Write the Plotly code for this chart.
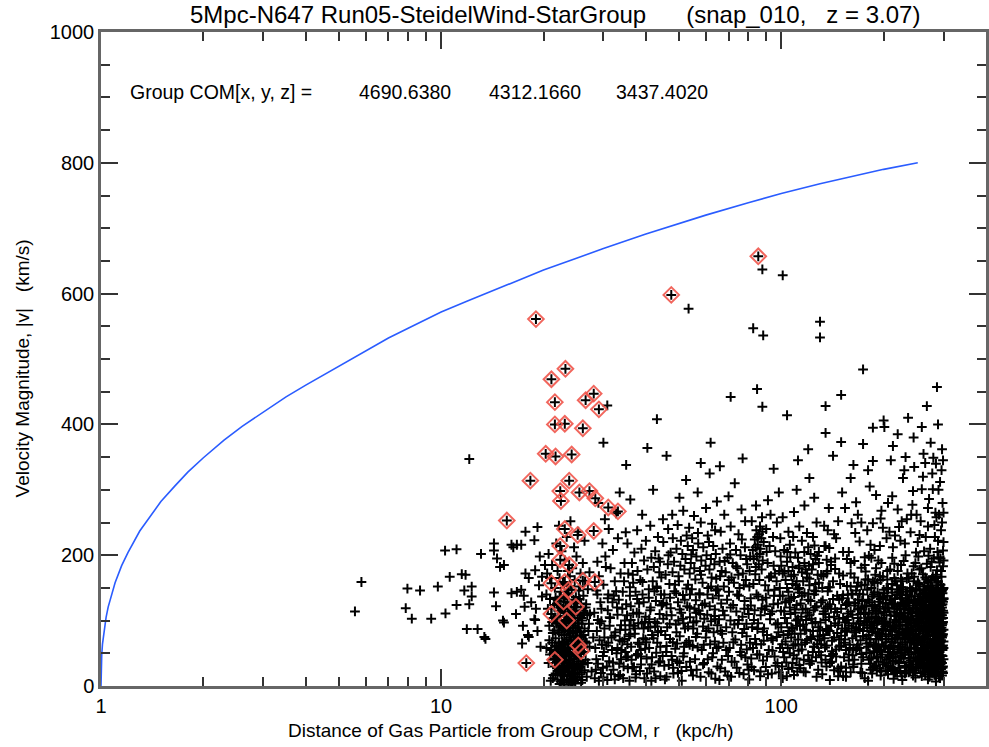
import plotly.graph_objects as go

# Escape-velocity style envelope |v|(r)
vesc_r = [1.0, 1.002, 1.005, 1.01, 1.02, 1.035, 1.05, 1.075, 1.1, 1.15, 1.2, 1.3, 1.4, 1.5,
          1.65, 1.8, 2.0, 2.3, 2.6, 3.0, 3.5, 4.0, 5.0, 6.0, 7.0, 8.0, 10, 12, 15, 20, 25, 30,
          40, 50, 60, 80, 100, 130, 160, 200, 252]
vesc_v = [0, 34, 48, 64, 84, 105, 121, 141, 158, 184, 204, 237, 261, 282,
          306, 327, 349, 376, 397, 419, 442, 460, 489, 513, 532, 547, 572, 589, 610, 636, 654, 669,
          691, 707, 720, 739, 753, 768, 779, 790, 800]

# Gas particles (r [kpc/h], |v| [km/s])
gas_inner = [
    (12.1, 347), (5.83, 159), (5.58, 114), (7.96, 149), (8.67, 146), (7.87, 119), (8.2, 103),
    (9.35, 103), (9.78, 152), (10.27, 207), (11.1, 209), (10.6, 167), (10.3, 111), (11.1, 124),
    (11.5, 171), (11.8, 170), (11.7, 146), (12.3, 152), (12.3, 137), (12.1, 125), (11.9, 87),
    (12.8, 87), (13.5, 72), (13.1, 202), (14.3, 218), (14.3, 207), (14.6, 195), (14.9, 182),
    (15.3, 185), (14.3, 143), (14.5, 122), (15.3, 97), (16.1, 216), (16.7, 216), (17.2, 216),
    (16.3, 212), (17.7, 236), (19.2, 243), (18.8, 223), (16.1, 142), (16.7, 144), (17.2, 147),
    (17.5, 138), (17.6, 121), (17.4, 92), (17.3, 65), (18.9, 101), (18.1, 75), (19.5, 198),
    (19.8, 167), (19.8, 137), (19.4, 154), (20.2, 185), (20.5, 172), (18.9, 177), (17.7, 172),
    (18.1, 165), (13.4, 75), (15.2, 100), (18.0, 78), (18.8, 102), (19.2, 84), (19.6, 60),
    (16.6, 110), (18.4, 128), (19.0, 118),
]

gas_spike = [
    (21.3, 12), (22.8, 8), (23.5, 15), (24.1, 6), (22.4, 20), (23.9, 22), (24.6, 18), (21.9, 27),
    (23.1, 30), (25.2, 25), (22.6, 35), (24.3, 33), (23.7, 40), (21.5, 42), (25.8, 38), (22.9, 46),
    (24.9, 47), (23.3, 52), (21.1, 55), (22.2, 58), (24.0, 57), (25.5, 60), (26.3, 52), (23.6, 64),
    (22.7, 68), (24.7, 70), (21.7, 73), (25.9, 75), (23.0, 78), (26.8, 66), (24.4, 82), (22.1, 85),
    (23.8, 88), (25.3, 90), (20.8, 92), (27.1, 84), (22.5, 96), (24.2, 98), (26.0, 100), (21.4, 104),
    (23.4, 106), (25.6, 108), (22.9, 112), (24.8, 115), (20.6, 118), (26.6, 120), (23.2, 122),
    (21.9, 126), (25.1, 128), (27.4, 110), (24.5, 132), (22.3, 136), (26.2, 138), (20.4, 140),
    (23.6, 142), (25.4, 146), (21.6, 150), (27.0, 148), (24.0, 153), (22.8, 158), (26.5, 160),
    (20.9, 165), (23.9, 168), (25.7, 172), (22.0, 176), (27.3, 174), (24.3, 180), (21.2, 185),
    (26.1, 188), (23.1, 192), (25.0, 198), (20.7, 202), (22.6, 206), (24.6, 212), (21.8, 218),
    (26.4, 222), (23.4, 228), (25.3, 236), (22.2, 245), (24.0, 252),
    (22.0, 10), (23.0, 5), (24.4, 11), (22.6, 16), (23.8, 9), (24.9, 14), (21.7, 19), (23.2, 24),
    (24.5, 27), (22.3, 31), (25.0, 32), (23.6, 29), (21.9, 37), (24.0, 39), (25.4, 44), (22.5, 43),
    (23.1, 48), (24.6, 52), (21.4, 50), (22.9, 56), (25.1, 55), (23.7, 59), (24.3, 63), (22.2, 66),
    (25.8, 68), (21.6, 62), (23.4, 71), (24.9, 76), (22.6, 79), (21.3, 81), (25.5, 83), (23.9, 84),
    (22.9, 90), (24.5, 93), (21.8, 95), (25.9, 95), (23.1, 99), (24.1, 103), (22.4, 107),
    (25.2, 104), (21.1, 110), (23.8, 113), (26.3, 112), (22.7, 118), (24.6, 121), (21.5, 124),
    (23.5, 128), (25.8, 126), (22.0, 131), (24.9, 136), (20.9, 133), (23.3, 139), (22.5, 144),
    (24.2, 147), (25.6, 152), (23.0, 156), (24.7, 162), (22.3, 165), (23.6, 176),
    (21.0, 8), (21.8, 45), (22.3, 3), (22.9, 63), (23.4, 10), (23.9, 36), (24.4, 89), (24.8, 4),
    (25.3, 70), (25.9, 21), (26.4, 88), (27.0, 35), (21.2, 98), (21.6, 30), (22.1, 115), (22.7, 25),
    (23.2, 88), (23.7, 2), (24.2, 45), (24.7, 108), (25.2, 13), (25.7, 49), (26.2, 78), (26.8, 14),
    (27.3, 60), (20.8, 70), (21.9, 60), (22.4, 92), (23.0, 17), (23.5, 57), (24.0, 80), (24.5, 34),
    (25.0, 120), (25.6, 29), (26.1, 58), (26.6, 40), (27.2, 95), (22.6, 50), (23.3, 40), (23.8, 74),
    (24.3, 20), (24.8, 61), (25.4, 96), (21.5, 85), (22.1, 23), (23.0, 101), (23.6, 117),
    (24.1, 126), (24.6, 8), (25.1, 84), (26.0, 9), (26.9, 108), (20.7, 35), (20.4, 58), (27.7, 22),
    (28.0, 74), (21.7, 135), (23.1, 134), (25.5, 133), (26.7, 125),
    (21.4, 17), (21.9, 52), (22.2, 82), (22.5, 7), (22.8, 38), (23.1, 66), (23.3, 92), (23.6, 21),
    (23.9, 50), (24.1, 70), (24.4, 100), (24.6, 42), (24.9, 26), (25.2, 56), (25.5, 110), (25.8, 5),
    (26.1, 33), (26.5, 68), (22.0, 100), (22.5, 60), (23.0, 112), (23.5, 85), (24.0, 16), (24.5, 74),
    (25.0, 47), (25.5, 18), (21.6, 105), (22.3, 45), (23.2, 55), (23.8, 104), (24.2, 29), (24.8, 89),
    (25.3, 37), (25.9, 104), (26.4, 24), (21.2, 66), (22.7, 90), (23.4, 31), (24.0, 110), (24.7, 58),
    (25.7, 82), (26.2, 115), (20.9, 48), (22.4, 120), (23.7, 48), (24.3, 7), (25.1, 69), (22.9, 28),
    (23.9, 96), (24.5, 115),
]

gas_mid = [
    (28.3, 12), (29.5, 20), (30.8, 9), (32.1, 25), (33.6, 17), (28.9, 34), (31.2, 38), (34.4, 30),
    (29.9, 46), (32.8, 50), (28.4, 58), (30.6, 62), (33.9, 55), (35.0, 44), (29.2, 70), (31.7, 74),
    (34.1, 68), (28.7, 84), (30.2, 88), (32.5, 82), (33.8, 93), (29.6, 99), (31.4, 104), (34.7, 100),
    (28.2, 112), (30.9, 116), (32.9, 120), (29.4, 128), (33.3, 132), (31.0, 140), (28.6, 146),
    (34.2, 144), (30.0, 155), (32.4, 160), (29.1, 168), (33.7, 172), (31.5, 180), (28.8, 190),
    (30.4, 198), (34.6, 188), (32.0, 208), (29.8, 218), (33.1, 226), (31.1, 240), (34.9, 235),
    (30.3, 255), (32.7, 264), (29.0, 280), (33.5, 296),
    (35.8, 8), (37.4, 18), (39.6, 12), (42.3, 22), (44.1, 15), (36.5, 28), (38.7, 33), (41.0, 27),
    (43.6, 36), (35.4, 45), (37.9, 49), (40.2, 42), (42.9, 51), (44.8, 46), (36.2, 60), (38.3, 64),
    (40.9, 58), (43.2, 66), (35.7, 76), (37.1, 80), (39.3, 73), (41.7, 78), (44.3, 84), (36.8, 92),
    (38.9, 96), (40.6, 90), (42.5, 98), (35.2, 108), (37.6, 112), (39.9, 106), (43.9, 110),
    (36.1, 122), (38.2, 126), (41.3, 120), (42.8, 130), (44.6, 124), (35.9, 138), (37.3, 144),
    (39.1, 140), (40.8, 148), (43.0, 152), (36.7, 158), (38.5, 162), (41.9, 160), (44.4, 166),
    (35.5, 172), (37.8, 176), (40.4, 178), (42.2, 182), (43.8, 174), (36.4, 188), (39.5, 192),
    (41.5, 196), (44.0, 190), (37.0, 204), (38.8, 210), (42.6, 206), (35.3, 218), (40.0, 222),
    (43.4, 228), (37.7, 238), (41.2, 245), (39.0, 262), (44.9, 255), (36.0, 285), (42.0, 300),
    (45.5, 10), (48.2, 19), (51.0, 8), (54.3, 24), (57.9, 14), (61.2, 21), (64.0, 11), (46.7, 32),
    (49.4, 38), (52.6, 29), (55.8, 41), (59.3, 35), (62.7, 44), (45.9, 52), (48.8, 57), (51.7, 50),
    (54.9, 61), (58.4, 55), (61.8, 64), (64.6, 58), (47.1, 72), (50.3, 76), (53.5, 69), (56.6, 80),
    (60.0, 74), (63.3, 82), (46.2, 90), (49.0, 94), (52.1, 88), (55.2, 97), (58.9, 91), (62.2, 99),
    (64.9, 93), (47.6, 108), (50.8, 112), (53.9, 105), (57.2, 115), (60.6, 109), (63.8, 117),
    (46.0, 125), (49.7, 128), (52.9, 122), (56.1, 131), (59.6, 126), (62.9, 134), (45.3, 140),
    (48.5, 145), (51.4, 139), (54.6, 148), (57.5, 142), (61.0, 150), (64.3, 146), (46.9, 156),
    (50.0, 160), (53.2, 155), (55.9, 163), (58.7, 158), (62.4, 166), (45.7, 170), (47.9, 174),
    (49.9, 168), (51.9, 178), (53.8, 172), (55.5, 180), (57.7, 176), (59.9, 184), (61.5, 178),
    (63.6, 186), (46.4, 186), (48.4, 190), (50.5, 184), (52.3, 194), (54.2, 188), (56.3, 198),
    (58.2, 192), (60.3, 200), (62.1, 194), (64.2, 202), (47.3, 204), (49.2, 210), (51.2, 202),
    (53.1, 214), (55.0, 208), (57.0, 218), (59.0, 212), (61.3, 220), (63.1, 214), (45.0, 220),
    (48.0, 226), (50.7, 222), (52.7, 230), (54.7, 226), (56.9, 234), (60.8, 230), (63.9, 238),
    (46.5, 240), (49.6, 246), (53.6, 242), (58.0, 250), (62.6, 248), (47.8, 262), (51.5, 268),
    (55.4, 260), (60.1, 272), (50.2, 288), (56.8, 296), (64.7, 282), (52.5, 315), (61.6, 325),
    (28.5, 25), (29.3, 96), (30.1, 52), (30.9, 134), (31.6, 18), (32.3, 77), (33.0, 109), (33.8, 41),
    (34.5, 160), (35.3, 64), (36.1, 101), (36.9, 29), (37.7, 133), (38.6, 55), (39.4, 88), (40.3, 19),
    (41.2, 116), (42.1, 73), (43.1, 150), (44.0, 38), (45.0, 103), (46.0, 61), (47.1, 135), (48.1, 28),
    (49.2, 82), (50.3, 117), (51.5, 45), (52.6, 149), (53.8, 63), (55.0, 16), (56.3, 99), (57.5, 140),
    (58.9, 33), (60.2, 84), (61.6, 122), (63.0, 50), (64.4, 164), (28.8, 140), (29.7, 63),
    (30.5, 182), (31.3, 105), (32.0, 36), (32.7, 145), (33.5, 70), (34.3, 12), (35.0, 125),
    (35.8, 93), (36.6, 170), (37.4, 47), (38.2, 111), (39.1, 159), (39.9, 71), (40.8, 135),
    (41.7, 44), (42.6, 91), (43.6, 195), (44.5, 123), (45.6, 78), (46.6, 200), (47.6, 46),
    (48.7, 155), (49.8, 100), (50.9, 23), (52.0, 132), (53.2, 91), (54.4, 201), (55.6, 118),
    (56.8, 59), (58.1, 170), (59.4, 103), (60.8, 41), (62.2, 152), (63.6, 107), (64.9, 30),
    (29.9, 28), (31.8, 55), (33.2, 15), (34.8, 86), (36.3, 40), (37.9, 66), (39.7, 98), (41.5, 8),
    (43.4, 82), (45.3, 31), (47.3, 119), (49.4, 65), (51.6, 96), (53.9, 37), (56.1, 75), (58.6, 124),
    (61.1, 88), (63.8, 68),
    (28.6, 41), (29.1, 8), (29.6, 118), (30.2, 74), (30.7, 30), (31.3, 92), (31.9, 128), (32.4, 10),
    (33.0, 58), (33.6, 86), (34.1, 118), (34.8, 52), (35.4, 27), (36.0, 79), (36.7, 111), (37.3, 13),
    (38.0, 96), (38.7, 45), (39.4, 128), (40.1, 67), (40.9, 102), (41.6, 33), (42.4, 145), (43.2, 96),
    (44.1, 60), (45.0, 127), (46.0, 14), (47.0, 95), (48.0, 67), (49.1, 142), (50.2, 35), (51.4, 103),
    (52.6, 66), (53.8, 120), (55.1, 88), (56.4, 25), (57.8, 110), (59.2, 63), (60.7, 140), (62.3, 19),
    (63.9, 102), (28.9, 101), (30.0, 13), (31.0, 66), (32.2, 138), (33.4, 34), (34.6, 72),
    (35.9, 151), (37.1, 88), (38.4, 23), (39.8, 57), (41.2, 90), (42.7, 12), (44.3, 140), (46.0, 108),
    (47.8, 40), (49.7, 20), (51.8, 60), (53.9, 140), (56.2, 112),
]

gas_outer = [
    (65.8, 9), (68.4, 22), (71.2, 14), (74.0, 28), (77.5, 18), (79.6, 33), (66.9, 40), (69.8, 46),
    (72.9, 37), (75.7, 52), (78.4, 44), (65.4, 60), (67.6, 66), (70.5, 58), (73.3, 71), (76.2, 63),
    (79.1, 76), (66.3, 84), (68.9, 90), (71.8, 82), (74.6, 95), (77.8, 87), (65.6, 102), (68.1, 108),
    (70.9, 100), (73.8, 114), (76.9, 106), (79.8, 118), (66.6, 126), (69.3, 132), (72.2, 124),
    (75.1, 138), (78.0, 130), (65.1, 148), (67.8, 152), (70.2, 144), (72.6, 158), (75.4, 150),
    (78.7, 162), (66.1, 168), (68.6, 174), (71.4, 166), (74.3, 180), (77.1, 172), (79.4, 186),
    (65.9, 190), (69.5, 196), (72.0, 188), (75.9, 200), (78.9, 194), (67.2, 210), (70.7, 218),
    (73.6, 208), (76.6, 224), (66.4, 236), (71.0, 244), (74.9, 232), (78.3, 252), (68.0, 262),
    (76.4, 270), (70.0, 290), (73.0, 310),
    (80.5, 10), (83.2, 24), (86.7, 15), (90.1, 29), (93.8, 19), (97.5, 35), (81.6, 42), (84.9, 48),
    (88.4, 39), (91.9, 55), (95.6, 45), (99.2, 58), (80.9, 66), (83.8, 72), (87.3, 64), (90.8, 78),
    (94.4, 70), (98.1, 82), (82.1, 90), (85.5, 96), (89.0, 88), (92.7, 102), (96.3, 94), (80.2, 110),
    (83.5, 116), (87.0, 108), (90.5, 122), (94.0, 114), (97.8, 126), (81.3, 134), (84.6, 140),
    (88.1, 132), (91.6, 146), (95.2, 138), (99.0, 150), (82.8, 156), (86.2, 162), (89.7, 154),
    (93.3, 168), (96.9, 160), (80.7, 176), (84.2, 182), (85.9, 186), (87.6, 178), (83.0, 194),
    (84.8, 198), (86.4, 202), (88.2, 192), (91.2, 188), (95.0, 184), (98.6, 176), (82.5, 208),
    (84.0, 212), (85.3, 216), (86.9, 210), (88.8, 220), (83.6, 224), (85.0, 228), (86.1, 232),
    (87.4, 226), (84.5, 238), (86.6, 244), (88.0, 236), (92.4, 214), (96.0, 206), (99.6, 198),
    (90.3, 240), (94.6, 228), (81.9, 252), (87.8, 258), (93.0, 262), (97.1, 250), (84.3, 276),
    (91.4, 284), (98.4, 296),
    (101, 12), (105, 26), (109, 17), (113, 32), (118, 21), (123, 38), (127, 14), (102, 44),
    (106, 50), (111, 42), (115, 56), (120, 47), (125, 60), (129, 52), (103, 68), (107, 74),
    (110, 64), (114, 80), (119, 70), (124, 84), (128, 76), (100, 90), (104, 96), (108, 88),
    (112, 102), (116, 94), (121, 108), (126, 98), (102, 114), (106, 120), (110, 112), (114, 126),
    (118, 118), (122, 130), (127, 122), (101, 138), (105, 144), (109, 136), (113, 150), (117, 142),
    (121, 154), (125, 146), (129, 158), (103, 162), (107, 168), (111, 160), (115, 174), (119, 166),
    (123, 178), (128, 170), (100, 184), (104, 190), (108, 182), (112, 196), (117, 188), (122, 202),
    (126, 194), (102, 208), (106, 216), (110, 204), (115, 222), (120, 212), (124, 228), (105, 236),
    (113, 244), (119, 234), (127, 250), (101, 258), (109, 266), (117, 276), (125, 288), (111, 300),
    (121, 318),
    (100.5, 30), (103.5, 36), (107.5, 28), (111.5, 22), (116.5, 40), (121.5, 34), (126.5, 44),
    (104.5, 58), (108.5, 62), (112.5, 54), (117.5, 66), (122.5, 72), (127.5, 64), (101.5, 78),
    (105.5, 84), (109.5, 80), (113.5, 92), (118.5, 86), (123.5, 96), (128.5, 90), (102.5, 104),
    (106.5, 110), (110.5, 100), (114.5, 106), (119.5, 112), (124.5, 116), (103, 128), (107, 134),
    (111, 124), (115, 138), (120, 132), (125, 140), (104, 150), (108, 156), (112, 148), (116, 160),
    (121, 164), (126, 156), (101, 172), (105, 176), (109, 170), (113, 184), (118, 178), (124, 186),
    (66.2, 27), (67.4, 115), (68.9, 55), (70.1, 162), (71.5, 37), (72.8, 94), (74.2, 140), (75.3, 20),
    (76.8, 81), (77.9, 118), (79.2, 56), (80.6, 152), (81.8, 29), (83.1, 101), (84.4, 64),
    (85.6, 137), (86.9, 22), (88.3, 83), (89.5, 117), (90.8, 45), (92.1, 166), (93.5, 73),
    (94.9, 125), (96.2, 31), (97.7, 96), (99.1, 138), (100.6, 64), (102.2, 175), (103.8, 15),
    (105.5, 131), (107.1, 89), (108.8, 47), (110.4, 154), (112.1, 71), (113.8, 27), (115.6, 117),
    (117.3, 85), (119.2, 172), (121.0, 38), (122.8, 103), (124.7, 60), (126.5, 145), (128.4, 25),
    (130.4, 97), (132.4, 131), (134.5, 59), (136.6, 176), (138.8, 84), (65.5, 138), (67.0, 80),
    (68.2, 191), (69.6, 16), (71.0, 120), (72.3, 67), (73.7, 183), (75.0, 101), (76.4, 47),
    (77.6, 154), (79.0, 95), (80.2, 25), (81.4, 123), (82.6, 58), (83.9, 171), (85.1, 87), (86.3, 48),
    (87.6, 119), (88.8, 69), (90.1, 135), (91.4, 18), (92.8, 110), (94.2, 54), (95.5, 147),
    (97.0, 75), (98.4, 21), (99.8, 115), (101.3, 52), (102.9, 128), (104.6, 79), (106.3, 197),
    (108.0, 35), (109.6, 117), (111.3, 92), (113.0, 143), (114.7, 63), (116.4, 22), (118.3, 101),
    (120.1, 141), (121.9, 75), (123.8, 52), (125.6, 120), (127.5, 199), (129.4, 70), (131.4, 36),
    (133.4, 114), (135.5, 87), (137.7, 151), (139.7, 46), (131.0, 170), (134.0, 214), (137.0, 122),
    (140.0, 190), (132.8, 78), (135.8, 30), (138.2, 105),
    (66.8, 176), (70.8, 201), (74.8, 170), (78.2, 212), (81.0, 198), (90.6, 205), (95.8, 172),
    (99.4, 226), (104.2, 205), (108.4, 228), (112.7, 180), (116.9, 205), (120.6, 184), (125.2, 215),
    (129.0, 188), (133.7, 245), (138.4, 211),
]

gas_edge = [
    (132, 18), (139, 9), (147, 27), (155, 14), (163, 33), (171, 21), (180, 8), (188, 30), (196, 16),
    (205, 24), (214, 11), (222, 35), (231, 19), (240, 28), (248, 13), (256, 38), (263, 22), (270, 10),
    (276, 31), (282, 17), (288, 26), (293, 12), (297, 35), (299, 20), (285, 7), (272, 40), (259, 15),
    (244, 33), (227, 9), (210, 29), (193, 37), (176, 12), (158, 39), (143, 24),
    (131, 47), (136, 62), (141, 53), (148, 71), (153, 44), (159, 58), (166, 76), (172, 49), (178, 65),
    (184, 42), (190, 72), (197, 55), (203, 79), (208, 46), (214, 61), (220, 74), (226, 51), (232, 67),
    (237, 43), (243, 78), (249, 57), (254, 70), (259, 48), (264, 63), (268, 77), (273, 45), (277, 59),
    (281, 72), (285, 50), (289, 66), (292, 41), (295, 76), (298, 55), (300, 68), (286, 79), (279, 44),
    (267, 53), (262, 74), (251, 42), (245, 65), (235, 56), (229, 77), (217, 45), (211, 68), (200, 60),
    (187, 53), (181, 78), (168, 63), (162, 47), (150, 77), (145, 56), (134, 73), (291, 60), (296, 47),
    (283, 63), (274, 71), (261, 58), (256, 45), (240, 73), (223, 60),
    (130, 85), (135, 101), (140, 92), (146, 113), (151, 88), (157, 106), (163, 96), (169, 118),
    (174, 84), (180, 103), (186, 93), (191, 115), (198, 87), (204, 108), (209, 97), (215, 119),
    (221, 82), (227, 104), (233, 94), (238, 116), (244, 86), (250, 107), (255, 99), (260, 117),
    (265, 83), (270, 105), (274, 95), (278, 114), (282, 89), (286, 109), (290, 98), (293, 119),
    (296, 84), (299, 104), (297, 93), (294, 112), (288, 81), (284, 101), (276, 88), (268, 111),
    (263, 92), (252, 114), (246, 97), (236, 84), (230, 112), (218, 99), (212, 86), (201, 113),
    (194, 100), (183, 88), (177, 110), (165, 85), (160, 114), (154, 97), (143, 106), (138, 84),
    (287, 117), (280, 96), (271, 90), (257, 87), (242, 103), (224, 92), (207, 119), (189, 106),
    (171, 99),
    (131, 128), (137, 145), (142, 133), (149, 156), (155, 124), (161, 141), (167, 152), (173, 130),
    (179, 147), (185, 122), (192, 158), (199, 136), (206, 149), (213, 126), (219, 154), (225, 139),
    (231, 121), (239, 150), (246, 132), (253, 157), (258, 125), (264, 143), (269, 153), (275, 129),
    (280, 147), (284, 137), (289, 158), (293, 126), (297, 146), (300, 134), (291, 122), (287, 150),
    (277, 140), (266, 131), (255, 148), (241, 137), (228, 148), (216, 134), (203, 127), (188, 143),
    (176, 155), (164, 123), (152, 139), (139, 151), (294, 155), (282, 124), (272, 148), (262, 136),
    (250, 123), (234, 144),
    (133, 168), (140, 185), (148, 172), (156, 194), (164, 166), (172, 181), (181, 199), (189, 170),
    (197, 188), (205, 163), (212, 196), (220, 176), (229, 191), (237, 165), (245, 183), (253, 198),
    (261, 171), (268, 187), (275, 162), (281, 195), (287, 177), (292, 189), (296, 167), (299, 183),
    (285, 165), (271, 199), (258, 180), (242, 172), (225, 164), (209, 178), (193, 192), (177, 175),
    (160, 188), (144, 179),
    (135, 214), (143, 232), (152, 205), (161, 249), (170, 221), (179, 238), (188, 208), (196, 256),
    (204, 226), (213, 212), (222, 243), (231, 218), (240, 235), (249, 204), (257, 252), (266, 228),
    (274, 210), (282, 246), (289, 222), (295, 238), (299, 207), (286, 258), (270, 244), (252, 220),
    (234, 255), (216, 230), (199, 242), (183, 216), (165, 234), (147, 252),
    (138, 272), (151, 296), (166, 281), (182, 305), (197, 268), (212, 290), (228, 318), (243, 277),
    (259, 301), (272, 286), (284, 265), (293, 312), (298, 280), (278, 325), (250, 262), (220, 270),
    (190, 292), (160, 318),
    (136, 193), (145, 226), (158, 205), (168, 262), (176, 197), (186, 249), (195, 214), (206, 280),
    (215, 187), (224, 222), (232, 200), (241, 262), (248, 188), (255, 231), (263, 206), (270, 272),
    (277, 190), (283, 228), (288, 205), (291, 262), (294, 195), (297, 250), (300, 220), (279, 301),
    (261, 320), (244, 298), (226, 252), (208, 236), (190, 180), (172, 250), (154, 272), (137, 238),
    (129, 205), (290, 300), (300, 265), (285, 340), (262, 355), (230, 330), (210, 345), (180, 330),
    (131, 64), (133, 110), (135, 40), (137, 86), (139, 125), (142, 49), (144, 96), (146, 138),
    (148, 60), (150, 30), (152, 104), (154, 71), (156, 126), (158, 92), (160, 21), (162, 140),
    (164, 82), (166, 55), (168, 117), (170, 87), (172, 154), (174, 44), (176, 99), (178, 73),
    (180, 132), (182, 50), (184, 89), (186, 28), (188, 124), (190, 103),
    (132, 150), (136, 172), (140, 118), (144, 195), (148, 132), (152, 169), (156, 153), (160, 172),
    (164, 191), (168, 158), (172, 120), (176, 185), (180, 163), (184, 196), (188, 158), (139, 35),
    (147, 15), (155, 28), (163, 57), (171, 110),
]

gas_core = [
    (183, 25), (191, 44), (199, 33), (206, 52), (213, 38), (219, 20), (226, 47), (233, 30), (239, 58),
    (247, 24), (253, 51), (258, 34), (265, 27), (269, 61), (276, 38), (280, 23), (284, 54), (290, 33),
    (294, 61), (298, 28), (263, 50), (249, 37), (237, 21), (221, 56), (204, 40), (187, 63),
    (182, 97), (189, 82), (195, 121), (202, 91), (210, 131), (217, 107), (224, 124), (232, 86),
    (238, 132), (245, 118), (251, 91), (256, 128), (262, 106), (267, 121), (271, 79), (275, 118),
    (279, 84), (283, 130), (288, 92), (292, 107), (295, 131), (299, 115), (289, 136), (277, 104),
    (266, 98), (254, 80), (241, 96), (228, 80), (215, 92), (196, 76),
    (185, 137), (193, 129), (201, 142), (211, 148), (218, 118), (227, 134), (235, 102), (243, 146),
    (249, 113), (257, 140), (263, 118), (270, 134), (273, 102), (278, 151), (283, 116), (286, 88),
    (291, 140), (295, 97), (298, 125), (300, 150), (284, 145), (268, 142), (252, 133), (236, 127),
    (222, 145),
    (150, 62), (156, 83), (162, 73), (170, 58), (175, 93), (182, 66), (186, 115), (198, 71),
    (203, 98), (209, 59), (147, 93), (141, 69), (135, 119), (158, 128), (168, 104), (178, 123),
    (192, 99), (174, 140), (166, 146), (157, 111),
    (141, 37), (144, 118), (146, 81), (149, 22), (151, 134), (153, 66), (156, 101), (158, 48),
    (160, 152), (161, 88), (163, 29), (165, 127), (167, 59), (169, 95), (170, 141), (172, 34),
    (174, 76), (175, 112), (177, 163), (178, 51), (179, 89), (142, 160), (145, 45), (148, 103),
    (152, 15), (154, 85), (157, 140), (159, 63), (162, 109), (164, 40), (166, 90), (168, 132),
    (171, 70), (173, 20), (176, 122), (178, 98), (180, 60), (143, 74), (150, 118), (155, 55),
    (181, 40), (182, 128), (183, 71), (184, 105), (185, 19), (186, 160), (187, 88), (188, 52),
    (189, 119), (190, 31), (191, 96), (192, 143), (193, 64), (194, 81), (195, 27), (196, 133),
    (197, 104), (198, 48), (199, 167), (200, 85), (201, 36), (202, 118), (203, 67), (204, 150),
    (205, 93), (206, 18), (207, 76), (208, 131), (209, 43), (210, 108), (211, 62), (212, 156),
    (213, 90), (214, 27), (215, 125), (216, 71), (217, 39), (218, 101), (219, 139), (220, 56),
    (181, 112), (183, 34), (185, 83), (187, 140), (189, 61), (191, 24), (193, 111), (195, 54),
    (197, 79), (199, 126), (201, 95), (203, 23), (205, 138), (207, 57), (209, 86), (211, 125),
    (213, 49), (215, 107), (217, 160), (219, 78), (184, 150), (188, 96), (192, 45), (196, 162),
    (200, 113), (204, 35), (208, 97), (212, 72), (216, 20), (220, 122),
    (221, 97), (222, 28), (223, 139), (224, 66), (225, 110), (226, 15), (227, 88), (228, 151),
    (229, 42), (230, 125), (231, 73), (232, 102), (233, 21), (234, 164), (235, 59), (236, 93),
    (237, 130), (238, 36), (239, 81), (240, 112), (241, 48), (242, 146), (243, 70), (244, 16),
    (245, 101), (246, 58), (247, 137), (248, 84), (249, 27), (250, 119), (251, 63), (252, 158),
    (253, 95), (254, 40), (255, 76), (256, 127), (257, 20), (258, 107), (259, 55), (260, 141),
    (221, 59), (223, 117), (225, 44), (227, 160), (229, 82), (231, 31), (233, 123), (235, 105),
    (237, 52), (239, 145), (241, 89), (243, 26), (245, 131), (247, 71), (249, 97), (251, 38),
    (253, 114), (255, 155), (257, 67), (259, 90), (222, 82), (226, 134), (230, 55), (234, 98),
    (238, 118), (242, 33), (246, 167), (250, 75), (254, 132), (258, 45), (224, 23), (228, 106),
    (232, 140), (236, 74), (240, 90), (244, 120), (248, 50), (252, 101), (256, 86), (260, 29),
    (261, 84), (262, 31), (262, 147), (263, 110), (264, 58), (265, 18), (265, 128), (266, 76),
    (267, 40), (267, 163), (268, 98), (269, 24), (269, 116), (270, 67), (271, 139), (271, 49),
    (272, 90), (273, 14), (273, 124), (274, 61), (275, 105), (275, 150), (276, 35), (277, 82),
    (277, 121), (278, 52), (279, 96), (279, 168), (280, 28), (281, 110), (281, 69), (282, 141),
    (283, 43), (283, 88), (284, 17), (284, 126), (285, 63), (286, 101), (286, 154), (287, 36),
    (288, 77), (288, 118), (289, 25), (289, 92), (290, 141), (290, 56), (291, 110), (291, 15),
    (292, 74), (292, 131), (293, 45), (293, 98), (294, 20), (294, 117), (294, 67), (295, 150),
    (295, 38), (296, 89), (296, 124), (296, 58), (297, 16), (297, 108), (297, 74), (298, 142),
    (298, 46), (298, 95), (299, 30), (299, 129), (299, 62), (300, 86), (300, 112), (300, 41),
    (261, 124), (263, 72), (264, 152), (266, 49), (268, 134), (270, 85), (272, 26), (274, 113),
    (276, 64), (278, 142), (280, 89), (282, 32), (285, 113), (287, 56), (289, 160), (291, 81),
    (293, 140), (295, 70), (297, 132), (299, 79), (262, 97), (264, 36), (266, 112), (268, 60),
    (270, 160), (272, 128), (274, 40), (276, 96), (278, 20), (280, 132), (283, 71), (285, 22),
    (287, 97), (290, 35), (292, 104), (294, 83), (296, 103), (298, 22),
    (191, 58), (194, 137), (197, 22), (199, 95), (202, 61), (205, 119), (207, 31), (210, 84),
    (212, 143), (214, 52), (217, 73), (219, 112), (221, 37), (223, 93), (225, 151), (227, 63),
    (229, 118), (231, 48), (233, 80), (235, 139), (237, 101), (239, 24), (241, 67), (243, 111),
    (245, 44), (247, 97), (249, 148), (251, 73), (253, 29), (255, 110), (257, 52), (259, 128),
    (261, 42), (263, 89), (265, 146), (267, 62), (269, 105), (271, 21), (273, 83), (275, 132),
    (277, 47), (279, 113), (281, 58), (283, 97), (285, 141), (287, 74), (289, 48), (291, 121),
    (293, 87), (295, 26), (297, 61), (299, 98), (300, 133), (298, 77), (296, 144), (294, 33),
    (292, 56), (290, 118), (288, 142), (286, 30),
    (192, 81), (196, 44), (200, 147), (204, 72), (208, 114), (212, 25), (216, 88), (220, 140),
    (224, 51), (228, 127), (232, 71), (236, 112), (240, 39), (244, 86), (248, 123), (252, 57),
    (256, 104), (260, 71), (264, 122), (268, 35), (272, 104), (276, 141), (280, 64), (284, 100),
    (288, 53), (292, 137), (296, 79), (300, 58), (299, 148), (297, 120), (295, 108), (293, 68),
    (291, 40), (289, 109), (287, 132), (285, 85), (283, 27), (281, 124), (279, 71), (277, 100),
    (275, 60), (273, 139), (271, 112), (269, 44), (267, 85), (265, 107), (263, 33), (261, 103),
    (259, 63), (257, 118),
    (195, 168), (205, 176), (215, 165), (225, 185), (235, 172), (245, 160), (255, 178), (265, 166),
    (275, 182), (285, 170), (295, 176), (300, 192), (290, 197), (270, 158), (250, 146),
]

gas_high = [
    (88.0, 637), (101, 628), (53.4, 577), (130, 557), (82.7, 547), (88.5, 536), (130, 533),
    (174, 484), (84.9, 454), (71.0, 442), (150, 445), (287, 457), (30.8, 429), (88.0, 427),
    (135, 428), (43.1, 408), (200, 406), (201, 396), (259, 396), (289, 400), (135, 387), (150, 373),
    (174, 370), (213, 367), (297, 362), (40.4, 364), (30.0, 372),
    (46, 352), (58, 341), (66, 336), (77, 348), (95, 332), (112, 345), (142, 352), (163, 338),
    (186, 344), (232, 350), (246, 335), (265, 341), (280, 349), (296, 330), (299, 345), (245, 380),
    (275, 372), (236, 410), (268, 428), (220, 385), (186, 395), (120, 362), (62, 372), (35, 338),
    (104, 414),
]

# Particles belonging to the star group
star_r = [19.0, 47.5, 85.6, 23.2, 21.1, 28.1, 26.6, 21.6, 29.1, 21.6, 23.1, 26.1, 20.3, 21.7,
          24.2, 18.3, 23.8, 22.4, 25.5, 27.3, 28.4, 22.5, 31.0, 33.1, 15.6, 23.1, 25.2, 28.1,
          22.4, 22.4, 23.8, 21.1, 23.1, 26.1, 28.3, 23.7, 22.9, 24.9, 21.1, 23.4, 25.3, 25.8,
          21.6, 17.8]
star_v = [561, 598, 657, 485, 469, 447, 437, 434, 423, 400, 401, 394, 355, 351,
          354, 314, 314, 298, 296, 298, 287, 283, 273, 267, 253, 240, 231, 237,
          214, 193, 185, 157, 159, 161, 159, 147, 129, 121, 110, 100, 62, 53,
          40, 35]

group_com = ["4690.6380", "4312.1660", "3437.4020"]
x_major = [1, 10, 100]
x_minor = [2, 3, 4, 5, 6, 7, 8, 9, 20, 30, 40, 50, 60, 70, 80, 90, 200, 300, 400]

gas = gas_inner + gas_spike + gas_mid + gas_outer + gas_edge + gas_core + gas_high
gas_r = [p[0] for p in gas] + star_r
gas_v = [p[1] for p in gas] + star_v

FONT = "Liberation Sans, Arial, Helvetica, sans-serif"

fig = go.Figure()
fig.add_trace(go.Scatter(
    x=vesc_r, y=vesc_v, mode="lines", line=dict(color="#2a5cff", width=1.6),
    hoverinfo="skip"))
fig.add_trace(go.Scatter(
    x=gas_r, y=gas_v, mode="markers",
    marker=dict(symbol="cross-thin", size=7, line=dict(color="black", width=2), color="black")))
fig.add_trace(go.Scatter(
    x=star_r, y=star_v, mode="markers",
    marker=dict(symbol="diamond-open", size=12, color="rgba(240,85,75,0.9)",
                line=dict(width=2, color="rgba(240,85,75,0.9)"))))

axis_common = dict(
    showline=True, linecolor="#666666", linewidth=2.5, mirror="allticks",
    ticks="inside", ticklen=17, tickwidth=1.5, tickcolor="#333333",
    showgrid=False, zeroline=False,
    tickfont=dict(family=FONT, size=20, color="black"),
)

fig.update_xaxes(
    type="log", range=[0, 2.602], tickmode="array", tickvals=x_major,
    ticktext=[str(v) for v in x_major],
    minor=dict(tickmode="array", tickvals=x_minor, ticks="inside", ticklen=9,
               tickwidth=1.5, tickcolor="#333333"),
    **axis_common)
fig.update_yaxes(
    range=[0, 1000], tickmode="array", tickvals=[0, 200, 400, 600, 800, 1000],
    minor=dict(dtick=50, ticks="inside", ticklen=9, tickwidth=1.5, tickcolor="#333333"),
    **axis_common)

annotations = [
    dict(text="5Mpc-N647 Run05-SteidelWind-StarGroup      (snap_010,   z = 3.07)",
         x=0.5135, y=1.026, xanchor="center", yanchor="middle",
         font=dict(family=FONT, size=24, color="black")),
    dict(text="Group COM[x, y, z] =", x=0.0304, y=0.908, xanchor="left", yanchor="middle",
         font=dict(family=FONT, size=19.5, color="black")),
    dict(text="Distance of Gas Particle from Group COM, r   (kpc/h)", x=0.4628, y=-0.0688,
         xanchor="center", yanchor="middle", font=dict(family=FONT, size=19, color="black")),
    dict(text="Velocity Magnitude, |v|   (km/s)", x=-0.089, y=0.486, textangle=-90,
         xanchor="center", yanchor="middle", font=dict(family=FONT, size=19, color="black")),
]
for xp, val in zip([0.2894, 0.4358, 0.5800], group_com):
    annotations.append(dict(text=val, x=xp, y=0.908, xanchor="left", yanchor="middle",
                            font=dict(family=FONT, size=19.5, color="black")))
for a in annotations:
    a.update(xref="paper", yref="paper", showarrow=False)

fig.update_layout(
    width=989, height=747, margin=dict(l=101, r=0, t=32, b=61),
    plot_bgcolor="white", paper_bgcolor="white", showlegend=False,
    font=dict(family=FONT, color="black"), annotations=annotations,
)

fig.write_html("out.html")
